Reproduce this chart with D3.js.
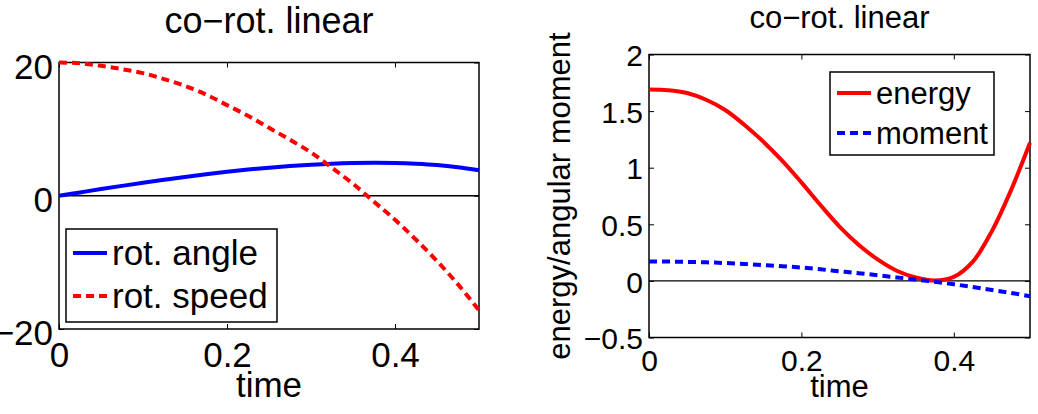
<!DOCTYPE html>
<html>
<head>
<meta charset="utf-8">
<script src="https://cdn.jsdelivr.net/npm/d3@7"></script>
<style>
body { margin: 0; background: #fff; }
text { font-family: "Liberation Sans", Arial, Helvetica, sans-serif; fill: #000; }
</style>
</head>
<body>
<div id="chart"></div>
<script>
// sample times (every 0.025)
var time = [0, 0.025, 0.05, 0.075, 0.1, 0.125, 0.15, 0.175, 0.2, 0.225, 0.25,
            0.275, 0.3, 0.325, 0.35, 0.375, 0.4, 0.425, 0.45, 0.475, 0.5];

// left panel
var rotAngle = [0, 0.5, 1.0, 1.48, 1.95, 2.4, 2.83, 3.23, 3.6, 3.93, 4.22,
                4.47, 4.67, 4.82, 4.91, 4.95, 4.92, 4.8, 4.6, 4.27, 3.83];
var rotSpeed = [20, 19.9, 19.5, 19.0, 18.4, 17.5, 16.5, 15.2, 13.6, 12.0, 10.2,
                8.4, 6.5, 4.2, 1.8, -0.9, -3.6, -6.6, -9.8, -13.3, -17.2];

// right panel
var energy = [1.69, 1.685, 1.66, 1.6, 1.51, 1.38, 1.23, 1.06, 0.87, 0.67, 0.48,
              0.32, 0.19, 0.09, 0.03, 0.003, 0.035, 0.17, 0.44, 0.8, 1.22];
var moment = [0.172, 0.171, 0.168, 0.164, 0.158, 0.15, 0.14, 0.13, 0.118, 0.102, 0.085,
              0.068, 0.05, 0.031, 0.012, -0.008, -0.03, -0.054, -0.08, -0.106, -0.135];

var xTicks = [0, 0.2, 0.4];
var leftYTicks = [-20, 0, 20];
var rightYTicks = [-0.5, 0, 0.5, 1, 1.5, 2];
var leftNames = ["rot. angle", "rot. speed"];
var rightNames = ["energy", "moment"];

var svg = d3.select("#chart").append("svg")
  .attr("width", 1038).attr("height", 414)
  .style("background", "#fff");

var fmt = d3.format("~g");

function drawPanel(p) {
  var x = d3.scaleLinear().domain([0, 0.5]).range([p.left, p.right]);
  var y = d3.scaleLinear().domain(p.yDomain).range([p.bottom, p.top]);
  var g = svg.append("g");

  // zero line
  g.append("line")
    .attr("x1", x(0)).attr("x2", x(0.5))
    .attr("y1", y(0)).attr("y2", y(0))
    .attr("stroke", "#000").attr("stroke-width", 1.3);

  // axes, ticks pointing inwards like matlab
  var bottom = g.append("g").attr("transform", "translate(0," + p.bottom + ")")
    .call(d3.axisBottom(x).tickValues(xTicks).tickFormat(fmt).tickSize(-5).tickPadding(p.xPad));
  var top = g.append("g").attr("transform", "translate(0," + p.top + ")")
    .call(d3.axisTop(x).tickValues(xTicks).tickFormat("").tickSize(-5));
  var left = g.append("g").attr("transform", "translate(" + p.left + ",0)")
    .call(d3.axisLeft(y).tickValues(p.yTicks).tickFormat(fmt).tickSize(-5).tickPadding(6));
  var right = g.append("g").attr("transform", "translate(" + p.right + ",0)")
    .call(d3.axisRight(y).tickValues(p.yTicks).tickFormat("").tickSize(-5));

  [bottom, top, left, right].forEach(function (a) {
    a.select(".domain").remove();
    a.selectAll(".tick line").attr("stroke", "#000").attr("stroke-width", 1);
    a.selectAll("text").attr("font-family", null).style("font-size", p.tickSize + "px").attr("fill", "#000");
  });
  left.selectAll("text").attr("dy", p.yDy);

  // box
  g.append("rect")
    .attr("x", p.left).attr("y", p.top)
    .attr("width", p.right - p.left).attr("height", p.bottom - p.top)
    .attr("fill", "none").attr("stroke", "#000").attr("stroke-width", 1.5);

  // curves
  var line = d3.line()
    .x(function (d, i) { return x(time[i]); })
    .y(function (d) { return y(d); })
    .curve(d3.curveCatmullRom.alpha(0.5));

  p.series.forEach(function (s) {
    g.append("path")
      .datum(s.values)
      .attr("d", line)
      .attr("fill", "none")
      .attr("stroke", s.color)
      .attr("stroke-width", 4)
      .attr("stroke-dasharray", s.dash ? "8,5" : null);
  });

  // title and labels
  g.append("text").attr("x", (p.left + p.right) / 2).attr("y", p.titleY)
    .attr("text-anchor", "middle").style("font-size", p.titleSize + "px")
    .text("co\u2212rot. linear");
  g.append("text").attr("x", (p.left + p.right) / 2).attr("y", 397)
    .attr("text-anchor", "middle").style("font-size", p.labelSize + "px")
    .text("time");
  if (p.yLabel) {
    g.append("text")
      .attr("transform", "translate(" + p.yLabelX + "," + (p.top + p.bottom) / 2 + ") rotate(-90)")
      .attr("text-anchor", "middle").style("font-size", p.labelSize + "px")
      .text(p.yLabel);
  }

  // legend
  var L = p.legend;
  g.append("rect")
    .attr("x", L.x).attr("y", L.y).attr("width", L.w).attr("height", L.h)
    .attr("fill", "#fff").attr("stroke", "#000").attr("stroke-width", 1.5);
  p.series.forEach(function (s, i) {
    var ly = L.rows[i];
    g.append("line")
      .attr("x1", L.x + 7).attr("x2", L.x + 41)
      .attr("y1", ly).attr("y2", ly)
      .attr("stroke", s.color).attr("stroke-width", 4)
      .attr("stroke-dasharray", s.dash ? "8,5" : null);
    g.append("text")
      .attr("x", L.x + 46).attr("y", ly + L.textOff)
      .style("font-size", p.labelSize + "px")
      .text(s.name);
  });
}

drawPanel({
  left: 59, right: 479, top: 62.5, bottom: 329,
  yDomain: [-20, 20], yTicks: leftYTicks,
  tickSize: 35, xPad: 13, yDy: "0.45em",
  titleSize: 36, titleY: 33, labelSize: 35,
  series: [
    { name: leftNames[0], values: rotAngle, color: "#0000ff", dash: false },
    { name: leftNames[1], values: rotSpeed, color: "#ff0000", dash: true }
  ],
  legend: { x: 66, y: 229, w: 211, h: 93, rows: [253, 296], textOff: 12 }
});

drawPanel({
  left: 649, right: 1030, top: 54.5, bottom: 337.5,
  yDomain: [-0.5, 2], yTicks: rightYTicks,
  tickSize: 30, xPad: 12, yDy: "0.37em",
  titleSize: 31, titleY: 28, labelSize: 31,
  yLabel: "energy/angular moment", yLabelX: 570,
  series: [
    { name: rightNames[0], values: energy, color: "#ff0000", dash: false },
    { name: rightNames[1], values: moment, color: "#0000ff", dash: true }
  ],
  legend: { x: 830, y: 72, w: 164, h: 83, rows: [93, 133], textOff: 11 }
});
</script>
</body>
</html>
